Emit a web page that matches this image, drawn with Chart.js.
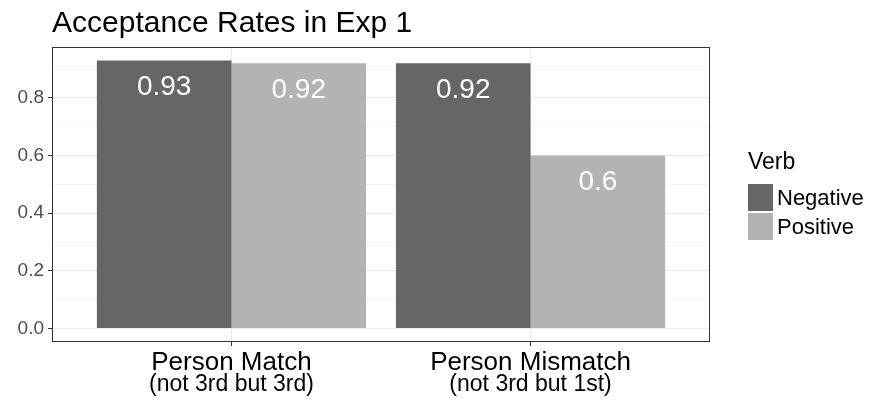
<!DOCTYPE html>
<html>
<head>
  <script src="https://cdn.jsdelivr.net/npm/chart.js"></script>
  <title>Acceptance Rates in Exp 1</title>
  <style>
    body { margin: 0; background: #fff; }
  </style>
</head>
<body>
  <canvas id="chart" width="872" height="400"></canvas>

  <script>
    // data
    const title = 'Acceptance Rates in Exp 1';
    const categories = ['Person Match', 'Person Mismatch'];
    const subLabels = ['(not 3rd but 3rd)', '(not 3rd but 1st)'];
    const seriesNames = ['Negative', 'Positive'];
    const negative = [0.93, 0.92];
    const positive = [0.92, 0.6];
    const yTicks = [0.0, 0.2, 0.4, 0.6, 0.8];
    const legendTitle = 'Verb';

    const colors = ['#666666', '#b3b3b3'];
    const FONT = '"Liberation Sans", Arial, sans-serif';

    const isMajor = v => Math.round(v * 10) % 2 === 0;

    // draws the bar labels, panel border, title, second line of x labels and legend
    const decor = {
      id: 'decor',
      afterDatasetsDraw(chart) {
        const ctx = chart.ctx;
        ctx.save();
        ctx.fillStyle = '#ffffff';
        ctx.font = '28px ' + FONT;
        ctx.textAlign = 'center';
        ctx.textBaseline = 'middle';
        chart.data.datasets.forEach((ds, di) => {
          chart.getDatasetMeta(di).data.forEach((bar, i) => {
            ctx.fillText(String(ds.data[i].y), bar.x, bar.y + 27);
          });
        });
        ctx.restore();
      },
      afterDraw(chart) {
        const { ctx, chartArea: a, scales } = chart;
        ctx.save();
        ctx.strokeStyle = '#333333';
        ctx.lineWidth = 1;
        ctx.strokeRect(a.left + 0.5, a.top + 0.5, a.right - a.left - 1, a.bottom - a.top - 1);

        ctx.fillStyle = '#000000';
        ctx.textBaseline = 'alphabetic';
        ctx.textAlign = 'left';
        ctx.font = '30px ' + FONT;
        ctx.fillText(title, a.left, 32);

        ctx.textAlign = 'center';
        ctx.font = '23px ' + FONT;
        subLabels.forEach((t, i) => {
          ctx.fillText(t, scales.x.getPixelForValue(i + 1), 391);
        });

        // legend
        ctx.textAlign = 'left';
        ctx.font = '23px ' + FONT;
        ctx.fillText(legendTitle, 748, 169);
        ctx.font = '22px ' + FONT;
        chart.data.datasets.forEach((ds, i) => {
          const y = 184 + i * 29;
          ctx.fillStyle = ds.backgroundColor;
          ctx.fillRect(748, y, 25, 27);
          ctx.fillStyle = '#000000';
          ctx.fillText(ds.label, 777, y + 21);
        });
        ctx.restore();
      }
    };

    const ctx = document.getElementById('chart').getContext('2d');
    new Chart(ctx, {
      type: 'bar',
      data: {
        datasets: [
          {
            label: seriesNames[0],
            data: negative.map((v, i) => ({ x: i + 1, y: v })),
            backgroundColor: colors[0]
          },
          {
            label: seriesNames[1],
            data: positive.map((v, i) => ({ x: i + 1, y: v })),
            backgroundColor: colors[1]
          }
        ]
      },
      options: {
        responsive: false,
        animation: false,
        devicePixelRatio: 1,
        layout: { padding: { top: 47, right: 162, left: 0, bottom: 0 } },
        datasets: { bar: { categoryPercentage: 0.9, barPercentage: 1.0 } },
        plugins: {
          legend: { display: false },
          title: { display: false },
          tooltip: { enabled: false }
        },
        scales: {
          x: {
            type: 'linear',
            min: 0.4,
            max: 2.6,
            offset: false,
            afterBuildTicks: s => { s.ticks = categories.map((c, i) => ({ value: i + 1 })); },
            afterFit: s => { s.height = 58; },
            border: { display: false },
            grid: { offset: false, color: '#ebebeb', tickColor: '#333333', tickLength: 4 },
            ticks: {
              padding: 1,
              color: '#000000',
              font: { family: FONT, size: 26 },
              maxRotation: 0,
              autoSkip: false,
              callback: v => categories[Math.round(v) - 1] || ''
            }
          },
          y: {
            min: -0.0465,
            max: 0.9765,
            afterBuildTicks: s => { s.ticks = yTicks.flatMap(v => [v, v + 0.1]).map(v => ({ value: v })); },
            afterFit: s => { s.width = 52; },
            border: { display: false },
            grid: {
              color: c => (c.tick && isMajor(c.tick.value)) ? '#ebebeb' : '#f4f4f4',
              tickColor: c => (c.tick && isMajor(c.tick.value)) ? '#333333' : 'rgba(0,0,0,0)',
              tickLength: 4
            },
            ticks: {
              padding: 4,
              color: '#4d4d4d',
              font: { family: FONT, size: 19 },
              autoSkip: false,
              callback: v => isMajor(v) ? v.toFixed(1) : ''
            }
          }
        }
      },
      plugins: [decor]
    });
  </script>
</body>
</html>
